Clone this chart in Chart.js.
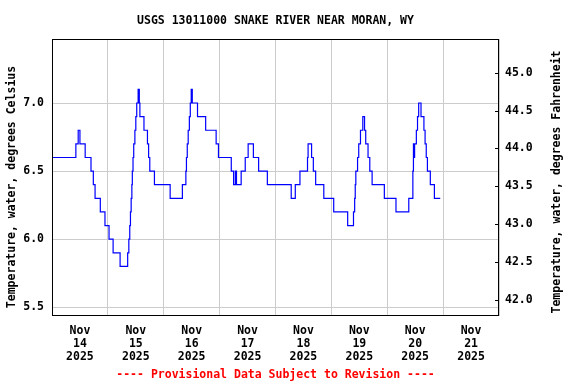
<!DOCTYPE html>
<html>
<head>
<meta charset="utf-8">
<title>USGS 13011000 SNAKE RIVER NEAR MORAN, WY</title>
<script src="https://cdn.jsdelivr.net/npm/chart.js@4.4.1/dist/chart.umd.min.js"></script>
<style>
  html, body { margin: 0; padding: 0; background: #fff; }
  #wrap { width: 576px; height: 384px; }
</style>
</head>
<body>
<div id="wrap"><canvas id="chart" width="576" height="384"></canvas></div>
<script>
// Hours since Nov 14 2025 00:00 where the reading changes, and the new value (deg C)
const hours = [
  0, 10.25, 11.25, 12, 14.25, 16.75, 17.75, 18.5, 20.75, 22.75, 24.5, 26.25, 29.25, 32.5,
  33.0, 33.4, 33.7, 34.0, 34.3, 34.5, 34.8, 35.1, 35.6, 36.0, 36.4, 37.0, 37.5, 37.75, 39.5, 41.0, 41.5, 42.0, 44.0, 50.75,
  56.0, 57.5, 57.75, 58.1, 58.5, 59.0, 59.4, 59.8, 60.25, 62.5, 66.0, 70.5, 71.5, 77.0, 78.0, 78.75, 79.25, 81.25,
  83.0, 84.25, 86.5, 88.75, 92.5, 102.75, 104.5, 106.5, 109.75, 110.0, 111.5, 112.25, 113.25, 116.75, 121.0, 127.0,
  129.5, 130.0, 130.25, 130.5, 131.25, 131.75, 132.5, 133.5, 134.25, 134.75, 135.75, 136.5, 137.5, 142.75, 147.75,
  153.25, 155.0, 155.25, 155.5, 155.75, 156.5, 157.0, 157.5, 158.5, 159.75, 160.25, 160.75, 161.25, 162.5, 164.25, 166.75
];
const tempC = [
  6.6, 6.7, 6.8, 6.7, 6.6, 6.5, 6.4, 6.3, 6.2, 6.1, 6.0, 5.9, 5.8, 5.9,
  6.0, 6.1, 6.2, 6.3, 6.4, 6.5, 6.6, 6.7, 6.8, 6.9, 7.0, 7.1, 7.0, 6.9, 6.8, 6.7, 6.6, 6.5, 6.4, 6.3,
  6.4, 6.5, 6.6, 6.7, 6.8, 6.9, 7.0, 7.1, 7.0, 6.9, 6.8, 6.7, 6.6, 6.5, 6.4, 6.5, 6.4, 6.5,
  6.6, 6.7, 6.6, 6.5, 6.4, 6.3, 6.4, 6.5, 6.6, 6.7, 6.6, 6.5, 6.4, 6.3, 6.2, 6.1,
  6.2, 6.3, 6.4, 6.5, 6.6, 6.7, 6.8, 6.9, 6.8, 6.7, 6.6, 6.5, 6.4, 6.3, 6.2,
  6.3, 6.5, 6.7, 6.6, 6.7, 6.8, 6.9, 7.0, 6.9, 6.8, 6.7, 6.6, 6.5, 6.4, 6.3, 6.3
];
const dayLabels = ['14', '15', '16', '17', '18', '19', '20', '21'];
const monthLabel = 'Nov';
const yearLabel = '2025';

const yMinC = 5.436;
const yMaxC = 7.47;
const toF = c => c * 1.8 + 32;

const FONT = { family: "'DejaVu Sans Mono', monospace", size: 11.5, weight: 'bold' };
const FONT_CSS = "bold 11.5px 'DejaVu Sans Mono', monospace";

// title, footer, axis titles, box and the little inward ticks on the right axis
const usgsText = {
  id: 'usgsText',
  afterDraw(chart) {
    const { ctx, chartArea: a, scales } = chart;
    const mid = (a.left + a.right) / 2;
    ctx.save();
    ctx.font = FONT_CSS;
    ctx.textAlign = 'center';
    ctx.textBaseline = 'middle';
    ctx.fillStyle = '#000';
    ctx.fillText('USGS 13011000 SNAKE RIVER NEAR MORAN, WY', mid, 21);
    ctx.fillStyle = '#ff0000';
    ctx.fillText('---- Provisional Data Subject to Revision ----', mid, 375);

    ctx.fillStyle = '#000';
    ctx.save();
    ctx.translate(12, 187);
    ctx.rotate(-Math.PI / 2);
    ctx.fillText('Temperature, water, degrees Celsius', 0, 0);
    ctx.restore();
    ctx.save();
    ctx.translate(557, 182);
    ctx.rotate(-Math.PI / 2);
    ctx.fillText('Temperature, water, degrees Fahrenheit', 0, 0);
    ctx.restore();

    ctx.strokeStyle = '#000';
    ctx.lineWidth = 1;
    ctx.strokeRect(a.left + 0.5, a.top + 0.5, a.right - a.left - 1, a.bottom - a.top - 1);
    ctx.beginPath();
    scales.yF.ticks.forEach(t => {
      const y = Math.round(scales.yF.getPixelForValue(t.value)) + 0.5;
      ctx.moveTo(a.right - 4, y);
      ctx.lineTo(a.right, y);
    });
    ctx.stroke();
    ctx.restore();
  }
};

const points = hours.map((h, i) => ({ x: h, y: tempC[i] }));

new Chart(document.getElementById('chart'), {
  type: 'line',
  data: {
    datasets: [{
      data: points,
      borderColor: '#0000ff',
      borderWidth: 1.2,
      pointRadius: 0,
      stepped: true,
      fill: false
    }]
  },
  options: {
    responsive: false,
    animation: false,
    layout: { padding: { top: 39, left: 0, right: 0, bottom: 0 } },
    plugins: {
      legend: { display: false },
      tooltip: { enabled: false }
    },
    scales: {
      x: {
        type: 'linear',
        min: 0,
        max: 192,
        afterFit: s => { s.height = 68; },
        grid: {
          color: c => (c.tick && c.tick.value % 24 === 0) ? '#cccccc' : 'rgba(0,0,0,0)',
          drawTicks: false
        },
        border: { display: false },
        ticks: {
          stepSize: 12,
          autoSkip: false,
          maxRotation: 0,
          padding: 9,
          color: '#000',
          font: { ...FONT, lineHeight: 1.13 },
          callback: v => (v % 24 === 12) ? [monthLabel, dayLabels[(v - 12) / 24], yearLabel] : ''
        }
      },
      y: {
        position: 'left',
        min: yMinC,
        max: yMaxC,
        afterFit: s => { s.width = 52; },
        grid: { color: '#cccccc', drawTicks: false },
        border: { display: false },
        ticks: {
          stepSize: 0.5,
          includeBounds: false,
          padding: 8,
          color: '#000',
          font: FONT,
          callback: v => v.toFixed(1)
        }
      },
      yF: {
        position: 'right',
        min: toF(yMinC),
        max: toF(yMaxC),
        afterFit: s => { s.width = 77; },
        grid: { drawOnChartArea: false, drawTicks: false },
        border: { display: false },
        ticks: {
          stepSize: 0.5,
          includeBounds: false,
          padding: 6,
          color: '#000',
          font: FONT,
          callback: v => v.toFixed(1)
        }
      }
    }
  },
  plugins: [usgsText]
});
</script>
</body>
</html>
